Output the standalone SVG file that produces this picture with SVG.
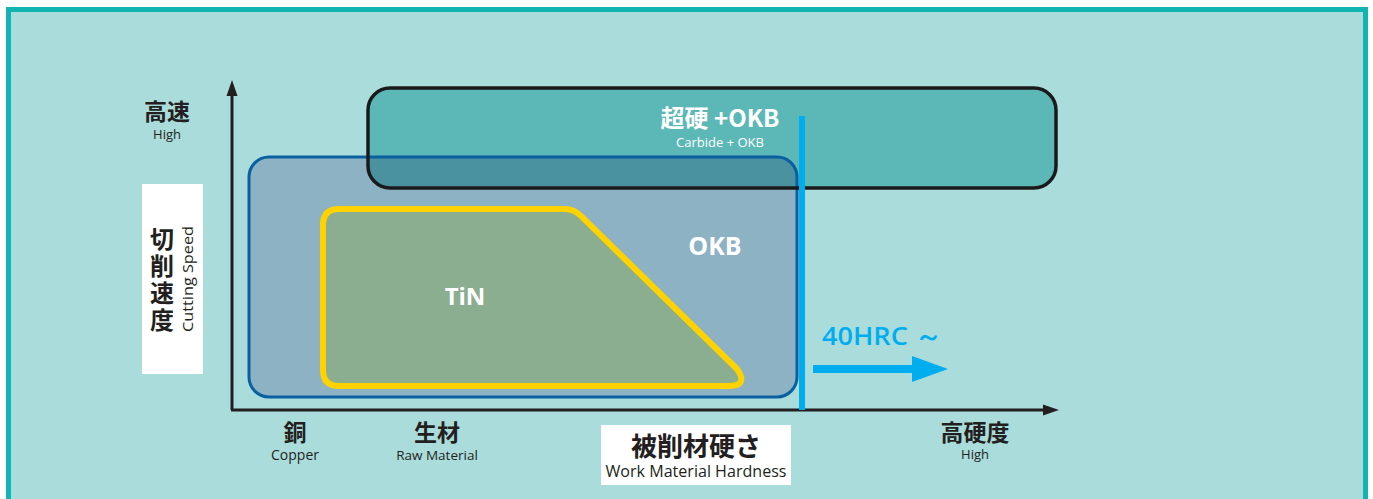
<svg xmlns="http://www.w3.org/2000/svg" width="1373" height="499" viewBox="0 0 1373 499">
<defs>
<style>
.jp{font-family:"Noto Sans CJK JP","Noto Sans",sans-serif;}
.lat{font-family:"Open Sans","Noto Sans",sans-serif;}
.dark{fill:#231f20;}
.wh{fill:#ffffff;}
.axis{stroke:#231f20;stroke-width:3;fill:none;}
</style>
<clipPath id="okbclip"><rect x="249" y="157" width="548" height="240" rx="20"/></clipPath>
</defs>
<rect x="0" y="0" width="1373" height="499" fill="#ffffff"/>
<rect x="8.5" y="9.5" width="1357" height="500" fill="#aadcdb" stroke="#12b3b3" stroke-width="5"/>

<g id="okb">
<rect x="249" y="157" width="548" height="240" rx="20" fill="#8db2c4"/>
</g>
<g id="carbide">
<rect x="368" y="88" width="688" height="100" rx="22" fill="#5cb8b6"/>
<rect x="368" y="88" width="688" height="100" rx="22" fill="#4a929f" clip-path="url(#okbclip)"/>
<rect x="249" y="157" width="548" height="240" rx="20" fill="none" stroke="#0a5fa0" stroke-width="3"/>
<rect x="368" y="88" width="688" height="100" rx="22" fill="none" stroke="#1a1a1a" stroke-width="3.5"/>
<text x="720" y="127" class="jp wh" font-size="24" font-weight="bold" text-anchor="middle">超硬 +OKB</text>
<text x="720" y="147" class="lat wh" font-size="13" text-anchor="middle">Carbide + OKB</text>
</g>
<g id="okb-label">
<text x="715" y="255" class="lat wh" font-size="25" font-weight="bold" text-anchor="middle">OKB</text>
</g>
<g id="tin">
<path d="M323,225 Q323,209 339,209 L565,209 Q574,209 581,216 L737,369 Q749,386 728,386 L339,386 Q323,386 323,370 Z" fill="#8cae90" stroke="#ffd200" stroke-width="6" stroke-linejoin="round"/>
<text x="465" y="305" class="lat wh" font-size="24" font-weight="bold" text-anchor="middle">TiN</text>
</g>

<g id="connectors">
<line x1="232" y1="410" x2="232" y2="92" class="axis"/>
<polygon points="232,80 226.5,96 237.5,96" fill="#231f20"/>
<line x1="231" y1="410" x2="1046" y2="410" class="axis"/>
<polygon points="1059,410 1043,404.5 1043,415.5" fill="#231f20"/>
<line x1="802" y1="116" x2="802" y2="410" stroke="#00aeef" stroke-width="6"/>
<line x1="813" y1="369" x2="915" y2="369" stroke="#00aeef" stroke-width="8"/>
<polygon points="948,369 912,356 912,382" fill="#00aeef"/>
</g>

<g id="hrc">
<text x="822" y="345" class="lat" font-size="26" font-weight="600" fill="#00aeef" textLength="120" lengthAdjust="spacingAndGlyphs">40HRC ～</text>
</g>

<g id="y-high">
<text x="167" y="120" class="jp dark" font-size="23" font-weight="bold" text-anchor="middle">高速</text>
<text x="167" y="139" class="lat dark" font-size="13" text-anchor="middle">High</text>
</g>
<g id="y-label">
<rect x="142" y="184" width="61" height="190" fill="#ffffff"/>
<text class="jp dark" font-size="24" font-weight="bold" text-anchor="middle">
<tspan x="162" y="248">切</tspan><tspan x="162" y="275">削</tspan><tspan x="162" y="302">速</tspan><tspan x="162" y="329">度</tspan>
</text>
<text transform="translate(193,279) rotate(-90)" class="lat dark" font-size="15" text-anchor="middle" textLength="106" lengthAdjust="spacingAndGlyphs">Cutting Speed</text>
</g>

<g id="x-copper">
<text x="295" y="441" class="jp dark" font-size="23" font-weight="bold" text-anchor="middle">銅</text>
<text x="295" y="460" class="lat dark" font-size="14" text-anchor="middle">Copper</text>
</g>
<g id="x-raw">
<text x="437" y="441" class="jp dark" font-size="23" font-weight="bold" text-anchor="middle">生材</text>
<text x="437" y="460" class="lat dark" font-size="13.5" text-anchor="middle">Raw Material</text>
</g>
<g id="x-label">
<rect x="601" y="425" width="190" height="60" fill="#ffffff"/>
<text x="696" y="456" class="jp dark" font-size="26" font-weight="bold" text-anchor="middle">被削材硬さ</text>
<text x="696" y="477" class="lat dark" font-size="16" text-anchor="middle" textLength="181" lengthAdjust="spacingAndGlyphs">Work Material Hardness</text>
</g>
<g id="x-high">
<text x="975" y="441" class="jp dark" font-size="23" font-weight="bold" text-anchor="middle">高硬度</text>
<text x="975" y="459" class="lat dark" font-size="13" text-anchor="middle">High</text>
</g>
</svg>
